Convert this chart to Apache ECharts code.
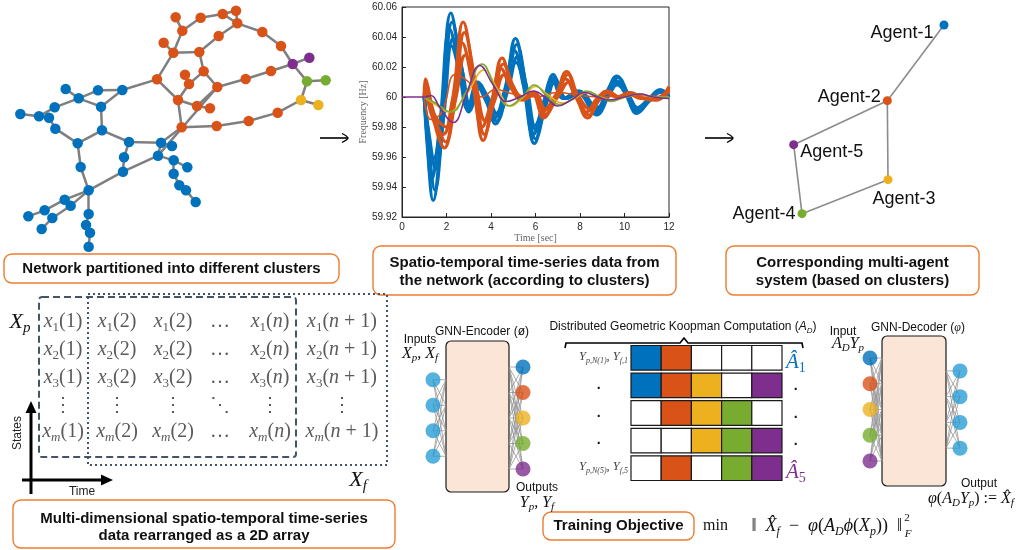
<!DOCTYPE html>
<html><head><meta charset="utf-8">
<script src="https://cdn.jsdelivr.net/npm/echarts/dist/echarts.min.js"></script>
<style>html,body{margin:0;padding:0;background:#fff}#c{width:1030px;height:550px}</style>
</head><body><div id="c"></div>
<script>
// ---------------- DATA ----------------
const COLORS = ['#0072bd', '#d95319', '#edb120', '#77ac30', '#7e2f8e'];
const NN_BLUE = '#2b9fd6';

// network (x, y in drawing units, cluster index)
const netNodes = [
  [527,52,1],[602,53,1],[668,42,1],[708,32,1],[712,70,1],[547,92,1],[656,108,1],[787,96,1],[843,138,1],
  [491,128,1],[520,158,1],[598,156,1],[611,214,1],[555,224,1],[567,252,1],[471,238,1],[652,261,1],
  [737,237,1],[813,213,1],[534,300,1],[591,318,1],[630,325,1],[545,382,1],[650,378,1],[746,363,1],[833,338,1],
  [878,192,4],[928,173,4],[921,244,3],[977,241,3],[903,300,2],[955,315,2],
  [197,267,0],[236,295,0],[294,271,0],[367,270,0],[164,322,0],[303,320,0],[61,342,0],[117,349,0],
  [147,353,0],[166,386,0],[306,391,0],[233,430,0],[387,426,0],[483,428,0],[516,438,0],[372,472,0],
  [474,467,0],[521,481,0],[562,502,0],[242,501,0],[369,515,0],[521,521,0],[538,556,0],[558,571,0],
  [587,606,0],[266,571,0],[194,599,0],[212,617,0],[134,631,0],[85,649,0],[157,654,0],[125,687,0],
  [266,642,0],[258,675,0],[270,698,0],[266,740,0]
];
const netEdges = [
  [0,5],[5,1],[1,2],[2,4],[3,4],[2,3],[4,6],[6,11],[4,7],[7,8],[8,26],
  [5,10],[9,10],[10,11],[10,15],[11,12],[12,16],[12,14],[13,14],[14,19],[15,19],[15,35],
  [19,20],[20,21],[20,16],[16,17],[17,18],[18,26],[19,22],[22,23],[23,24],[24,25],[25,30],
  [22,45],[16,48],
  [26,27],[26,28],[28,29],[28,30],[30,31],
  [32,33],[33,34],[34,35],[35,37],[33,37],[33,36],[36,39],[38,39],[39,40],[40,41],[41,43],
  [43,42],[42,37],[42,44],[44,45],[45,46],[44,47],[47,52],[52,48],[48,45],[48,49],[49,50],
  [49,53],[53,54],[54,55],[55,56],[43,51],[51,57],[57,52],[57,58],[58,60],[60,61],[57,59],
  [59,62],[62,63],[57,64],[64,65],[65,66],[66,67]
];

// multi-agent system
const agentNames = ['Agent-1', 'Agent-2', 'Agent-3', 'Agent-4', 'Agent-5'];
const agentNodes = [[762,75],[592,302],[594,539],[336,641],[311,434]];
const agentEdges = [[0,1],[1,2],[1,4],[2,3],[3,4]];

// frequency time series [time s, frequency Hz]
const blue1 = [[1,60],[1.15,59.965],[1.4,59.931],[1.75,59.975],[2.2,60.056],[2.6,60.025],[3.0,59.990],[3.4,60.010],[3.8,59.998],[4.2,59.982],[4.65,60.005],[5.1,60.039],[5.5,60.010],[5.95,59.969],[6.4,59.995],[6.8,60.015],[7.3,59.999],[7.9,60.004],[8.75,59.988],[9.2,60.002],[9.65,60.014],[10.1,60.002],[10.55,59.989],[11.1,59.998],[11.6,60.005],[12,60.001]];
const blue2 = [[1,60],[1.2,59.968],[1.48,59.938],[1.82,59.980],[2.26,60.050],[2.66,60.022],[3.06,59.991],[3.46,60.009],[3.86,59.998],[4.26,59.984],[4.71,60.005],[5.16,60.035],[5.56,60.009],[6.01,59.972],[6.46,59.995],[6.86,60.013],[7.36,59.999],[7.96,60.004],[8.81,59.989],[9.26,60.002],[9.71,60.013],[10.16,60.002],[10.61,59.990],[11.16,59.998],[11.66,60.004],[12,60.0]];
const blue3 = [[1,60],[1.12,59.975],[1.33,59.945],[1.7,59.982],[2.15,60.045],[2.55,60.020],[2.95,59.992],[3.35,60.008],[3.75,59.998],[4.15,59.986],[4.6,60.004],[5.05,60.031],[5.45,60.008],[5.9,59.975],[6.35,59.996],[6.75,60.012],[7.25,59.999],[7.85,60.003],[8.7,59.990],[9.15,60.002],[9.6,60.011],[10.05,60.002],[10.5,59.991],[11.05,59.998],[11.55,60.004],[12,60.001]];
const blue4 = [[1,60],[1.22,59.975],[1.52,59.952],[1.86,59.985],[2.3,60.039],[2.7,60.018],[3.1,59.993],[3.5,60.007],[3.9,59.999],[4.3,59.988],[4.75,60.004],[5.2,60.027],[5.6,60.007],[6.05,59.978],[6.5,59.996],[6.9,60.011],[7.4,59.999],[8.0,60.003],[8.85,59.991],[9.3,60.001],[9.75,60.010],[10.2,60.001],[10.65,59.992],[11.2,59.999],[11.7,60.004],[12,60.0]];
const blue5 = [[1,60],[1.16,59.979],[1.42,59.959],[1.78,59.986],[2.22,60.034],[2.62,60.015],[3.02,59.994],[3.42,60.006],[3.82,59.999],[4.22,59.989],[4.67,60.003],[5.12,60.023],[5.52,60.006],[5.97,59.981],[6.42,59.997],[6.82,60.009],[7.32,59.999],[7.92,60.002],[8.77,59.993],[9.22,60.001],[9.67,60.008],[10.12,60.001],[10.57,59.993],[11.12,59.999],[11.62,60.003],[12,60.0]];
const orange1 = [[1,60],[1.05,60.012],[1.3,59.995],[1.6,59.975],[1.9,59.966],[2.3,59.995],[2.75,60.050],[3.2,60.015],[3.65,59.971],[4.05,59.995],[4.5,60.026],[4.95,60.008],[5.4,59.998],[5.9,60.003],[6.35,59.986],[6.9,60.0],[7.4,60.017],[7.85,60.0],[8.35,59.986],[8.8,59.998],[9.2,60.004],[9.7,60.0],[10.2,60.003],[10.8,59.999],[11.4,59.998],[12,60.007]];
const orange2 = [[1,60],[1.08,60.009],[1.36,59.993],[1.66,59.978],[1.96,59.970],[2.36,59.996],[2.81,60.043],[3.26,60.013],[3.71,59.975],[4.11,59.996],[4.56,60.022],[5.01,60.007],[5.46,59.998],[5.96,60.003],[6.41,59.988],[6.96,60.0],[7.46,60.015],[7.91,60.0],[8.41,59.988],[8.86,59.998],[9.26,60.004],[9.76,60.0],[10.26,60.003],[10.86,59.999],[11.46,59.998],[12,60.006]];
const orange3 = [[1,60],[1.04,60.006],[1.25,59.992],[1.55,59.980],[1.85,59.975],[2.25,59.997],[2.7,60.036],[3.15,60.011],[3.6,59.980],[4.0,59.996],[4.45,60.019],[4.9,60.006],[5.35,59.999],[5.85,60.002],[6.3,59.990],[6.85,60.0],[7.35,60.012],[7.8,60.0],[8.3,59.990],[8.75,59.999],[9.15,60.003],[9.65,60.0],[10.15,60.002],[10.75,59.999],[11.35,59.999],[12,60.005]];
const orange4 = [[1,60],[1.1,60.004],[1.4,59.990],[1.7,59.983],[2.0,59.980],[2.4,59.998],[2.85,60.028],[3.3,60.009],[3.75,59.984],[4.15,59.997],[4.6,60.015],[5.05,60.005],[5.5,59.999],[6.0,60.002],[6.45,59.992],[7.0,60.0],[7.5,60.010],[7.95,60.0],[8.45,59.992],[8.9,59.999],[9.3,60.003],[9.8,60.0],[10.3,60.002],[10.9,59.999],[11.5,59.999],[12,60.004]];
const orange5 = [[1,60],[1.3,59.985],[1.8,59.990],[2.4,60.015],[3.0,60.010],[3.6,60.0],[4.2,60.005],[5.0,60.002],[6.0,60.0],[7.0,60.003],[8.0,60.001],[9.0,60.0],[10,60.001],[12,60.0]];
const yellowLine = [[1,60],[1.5,59.995],[2.1,59.990],[2.9,60.002],[3.7,60.018],[4.3,60.005],[4.9,59.994],[5.45,60.0],[6.0,60.007],[6.6,60.001],[7.2,59.996],[7.75,59.999],[8.3,60.003],[8.9,60.0],[9.5,59.998],[10.1,60.0],[10.7,60.002],[11.3,60.0],[12,60.0]];
const greenLine = [[1,60],[1.5,59.996],[2.2,59.990],[2.9,60.004],[3.6,60.022],[4.2,60.006],[4.8,59.994],[5.4,60.0],[5.95,60.008],[6.5,60.001],[7.1,59.995],[7.7,59.999],[8.3,60.004],[8.9,60.0],[9.4,59.997],[10.0,60.0],[10.7,60.002],[11.3,60.0],[12,60.0]];
const purpleLine = [[0,60],[1,60],[1.3,60.001],[1.7,59.993],[2.3,59.983],[2.9,60.002],[3.5,60.021],[4.1,60.008],[4.7,59.997],[5.3,60.0],[5.9,60.004],[6.5,59.999],[7.0,59.994],[7.6,59.998],[8.2,60.003],[8.8,60.0],[9.3,59.998],[10.0,60.0],[10.7,60.002],[11.3,60.0],[12,59.999]];

// distributed Koopman blocks: agent index (1..5) per cell, 0 = empty
const koopmanRows = [[1,2,0,0,0],[1,2,3,0,5],[0,2,3,4,0],[0,0,3,4,5],[0,2,0,4,5]];

// neural network layers
const encInputCount = 4;
const encOutputAgents = [1,2,3,4,5];
const decInputAgents = [1,2,3,4,5];
const decOutputCount = 4;

// 2D array labels
const matrixRowIdx = ['1','2','3','⋮','m'];
const matrixColArg = ['1','2','2','…','n','n+1'];

// ---------------- LAYOUT / STYLE ----------------
const SANS = 'Liberation Sans', SERIF = 'Liberation Serif';
const chart = echarts.init(document.getElementById('c'));

function mrich(size, color) {
  const L = Math.round(size * 1.25), ss = Math.round(size * 0.66), sl = Math.round(size * 0.7);
  return {
    i: {fontFamily: SERIF, fontStyle: 'italic', fontSize: size, lineHeight: L, fill: color},
    r: {fontFamily: SERIF, fontSize: size, lineHeight: L, fill: color},
    s: {fontFamily: SERIF, fontStyle: 'italic', fontSize: ss, lineHeight: sl, verticalAlign: 'bottom', fill: color},
    sr: {fontFamily: SERIF, fontSize: ss, lineHeight: sl, verticalAlign: 'bottom', fill: color},
    up: {fontFamily: SERIF, fontSize: ss, lineHeight: sl, verticalAlign: 'top', fill: color},
    a: {fontFamily: SANS, fontSize: size, lineHeight: L, fill: color},
    ai: {fontFamily: SANS, fontStyle: 'italic', fontSize: size, lineHeight: L, fill: color},
    as: {fontFamily: SANS, fontStyle: 'italic', fontSize: ss, lineHeight: sl, verticalAlign: 'bottom', fill: color}
  };
}

const g = [];
function box(x, y, w, h) {
  g.push({type: 'rect', shape: {x, y, width: w, height: h, r: 8}, style: {fill: '#fff', stroke: '#ed7d31', lineWidth: 1.4}});
}
function label(x, y, text, o) {
  o = o || {};
  g.push({type: 'text', x, y, rotation: o.rot || 0, style: Object.assign({
    text, align: o.align || 'center', verticalAlign: 'middle',
    fontFamily: o.family || SANS, fontSize: o.size || 12, fontWeight: o.weight || 'normal',
    fontStyle: o.style || 'normal', fill: o.color || '#111', lineHeight: o.lh
  }, o.rich ? {rich: o.rich} : {})});
}
function arrow(x1, x2, y) {
  g.push({type: 'polyline', shape: {points: [[x1, y], [x2, y]]}, style: {stroke: '#000', lineWidth: 1.6}});
  g.push({type: 'polyline', shape: {points: [[x2 - 6, y - 4.5], [x2, y], [x2 - 6, y + 4.5]], smooth: 0.3}, style: {stroke: '#000', lineWidth: 1.4, fill: null}});
}

// captions
box(4, 254, 335, 29);  label(171.5, 269, 'Network partitioned into different clusters', {size: 15, weight: 'bold'});
box(373, 246, 303, 49); label(524.5, 272, 'Spatio-temporal time-series data from\nthe network (according to clusters)', {size: 15, weight: 'bold', lh: 18});
box(726, 246, 253, 49); label(852.5, 272, 'Corresponding multi-agent\nsystem (based on clusters)', {size: 15, weight: 'bold', lh: 18});
box(13, 500, 382, 48); label(204, 527, 'Multi-dimensional spatio-temporal time-series\ndata rearranged as a 2D array', {size: 15, weight: 'bold', lh: 17});
box(543, 512, 151, 28); label(618.5, 526, 'Training Objective', {size: 15, weight: 'bold'});

arrow(320, 348, 138);
arrow(705, 733, 138);

// 2D array
g.push({type: 'rect', shape: {x: 39, y: 297, width: 257, height: 160, r: 3}, style: {fill: null, stroke: '#44546a', lineWidth: 2, lineDash: [7, 4]}});
g.push({type: 'rect', shape: {x: 88, y: 294, width: 299, height: 171}, style: {fill: null, stroke: '#44546a', lineWidth: 2, lineDash: [2, 3]}});
const colX = [63, 117, 173, 220, 270, 342], rowY = [322, 350, 378, 406, 432];
const mr = mrich(20, '#5a5a5a');
matrixRowIdx.forEach((ri, r) => {
  matrixColArg.forEach((ca, c) => {
    let t;
    if (ri === '⋮') t = ca === '…' ? '{r|⋱}' : '{r|⋮}';
    else if (ca === '…') t = '{r|…}';
    else {
      const sub = ri === 'm' ? '{s|m}' : '{sr|' + ri + '}';
      const arg = ca === 'n' ? '{i|n}' : ca === 'n+1' ? '{i|n}{r| + 1}' : '{r|' + ca + '}';
      t = '{i|x}' + sub + '{r|(}' + arg + '{r|)}';
    }
    label(colX[c], rowY[r], t, {rich: mr});
  });
});
label(20, 322, '{i|X}{s|p}', {rich: mrich(22, '#111')});
label(358, 480, '{i|X}{s|f}', {rich: mrich(22, '#111')});
g.push({type: 'polyline', shape: {points: [[31, 494], [31, 410]]}, style: {stroke: '#000', lineWidth: 3}});
g.push({type: 'polygon', shape: {points: [[31, 401], [25.5, 413], [36.5, 413]]}, style: {fill: '#000'}});
g.push({type: 'polyline', shape: {points: [[22, 480], [103, 480]]}, style: {stroke: '#000', lineWidth: 3}});
g.push({type: 'polygon', shape: {points: [[113, 480], [101, 474.5], [101, 485.5]]}, style: {fill: '#000'}});
label(18, 433, 'States', {size: 12, rot: Math.PI / 2, color: '#222'});
label(82, 492, 'Time', {size: 12, color: '#222'});

// GNN encoder
g.push({type: 'rect', shape: {x: 446, y: 341, width: 63, height: 151, r: 5}, style: {fill: '#fbe5d6', stroke: '#1a1a1a', lineWidth: 1.2}});
label(482, 332, 'GNN-Encoder (ø)', {size: 12});
label(420, 340, 'Inputs', {size: 12});
label(420, 354, '{i|X}{s|p}{r|, }{i|X}{s|f}', {rich: mrich(16, '#111')});
label(537, 488, 'Outputs', {size: 12});
label(537, 503, '{i|Y}{s|p}{r|, }{i|Y}{s|f}', {rich: mrich(16, '#111')});

// GNN decoder
g.push({type: 'rect', shape: {x: 882, y: 336, width: 64, height: 150, r: 5}, style: {fill: '#fbe5d6', stroke: '#1a1a1a', lineWidth: 1.2}});
label(918, 328, '{a|GNN-Decoder (}{i|φ}{a|)}', {rich: mrich(12, '#111')});
label(843, 332, 'Input', {size: 12});
label(848, 344, '{i|A}{s|D}{i|Y}{s|p}', {rich: mrich(16, '#111')});
label(979, 484, 'Output', {size: 12});
label(928, 499, '{i|φ}{r|(}{i|A}{s|D}{i|Y}{s|p}{r|) := }{i|X̂}{s|f}', {rich: mrich(16, '#111'), align: 'left'});

// Koopman block
label(683, 327, '{a|Distributed Geometric Koopman Computation (}{ai|A}{as|D}{a|)}', {rich: mrich(12, '#111')});
g.push({type: 'polyline', shape: {points: [[565, 348], [566, 343], [680, 343], [684, 338], [688, 343], [802, 343], [803, 348]]}, style: {stroke: '#000', lineWidth: 1.6, fill: null}});
label(628, 357, '{i|Y}{s|p,N(1)}{r|, }{i|Y}{s|f,1}', {rich: mrich(12.5, '#444'), align: 'right'});
label(628, 467, '{i|Y}{s|p,N(5)}{r|, }{i|Y}{s|f,5}', {rich: mrich(12.5, '#444'), align: 'right'});
[389, 417, 444].forEach(y => { label(599, y, '·', {size: 14, weight: 'bold'}); label(796, y + 1, '·', {size: 14, weight: 'bold'}); });
label(786, 362, '{i|Â}{sr|1}', {rich: mrich(21, COLORS[0]), align: 'left'});
label(786, 472, '{i|Â}{sr|5}', {rich: mrich(21, COLORS[4]), align: 'left'});

// training objective
label(703, 526, '{r|min}', {rich: mrich(16, '#111'), align: 'left'});
label(902, 526, '{r|‖\u2002}{i|X̂}{s|f}{r|\u2002−\u2002}{i|φ}{r|(}{i|A}{s|D}{i|ϕ}{r|(}{i|X}{s|p}{r|))\u2002‖}', {rich: mrich(18, '#111'), align: 'right'});
label(907, 518, '2', {size: 11, family: SERIF});
label(908, 534, 'F', {size: 11, family: SERIF, style: 'italic'});

// ---------------- SERIES ----------------
function lineS(data, color, w) {
  return {type: 'line', xAxisIndex: 0, yAxisIndex: 0, data, smooth: 0.45, showSymbol: false, silent: true,
    lineStyle: {color, width: w}, itemStyle: {color}, clip: true};
}
const layerYs = (n, N) => Array.from({length: n}, (_, k) => k + (N - n) / 2);

function nnSeries(gi, counts, colorsPerLayer, boxL, boxR) {
  const N = Math.max.apply(null, counts);
  const layers = counts.map(n => layerYs(n, N));
  const fanData = [], nodeData = [];
  layers.forEach((ys, L) => ys.forEach((y, k) => {
    fanData.push([L, y]);
    nodeData.push({value: [L, y], itemStyle: {color: colorsPerLayer[L][k]}});
  }));
  return [
    {type: 'custom', xAxisIndex: gi, yAxisIndex: gi, data: fanData, silent: true,
      renderItem: (params, api) => {
        const L = api.value(0), y = api.value(1), p = api.coord([L, y]);
        const ex = L === 0 ? boxL : boxR;
        return {type: 'group', children: layers[L].map(ty => ({type: 'line',
          shape: {x1: p[0], y1: p[1], x2: ex, y2: api.coord([L, ty])[1]},
          style: {stroke: '#8a8a8a', lineWidth: 0.7}}))};
      }},
    {type: 'scatter', xAxisIndex: gi, yAxisIndex: gi, data: nodeData, symbolSize: 15, silent: true, z: 5}
  ];
}

const hiddenX = (gi, max) => ({gridIndex: gi, type: 'value', min: 0, max, show: false});
const hiddenY = (gi, max) => ({gridIndex: gi, type: 'value', min: 0, max, inverse: true, show: false});

const agentLabelCfg = [
  {position: 'left', distance: 6, offset: [0, 8]},
  {position: 'left', distance: 2, offset: [0, -4]},
  {position: 'bottom', distance: 6, offset: [16, 0]},
  {position: 'left', distance: 2, offset: [0, 0]},
  {position: 'right', distance: 2, offset: [0, 7]}
];

const BW = 3.2;
const option = {
  animation: false,
  backgroundColor: '#fff',
  graphic: {elements: g},
  grid: [
    {left: 402, top: 7, width: 267, height: 210, show: true, borderColor: '#262626', borderWidth: 1, backgroundColor: '#fff'},
    {left: 0, top: 0, width: 340, height: 250},
    {left: 690, top: 0, width: 340, height: 240},
    {left: 433, top: 367, width: 90, height: 102},
    {left: 870, top: 358, width: 90, height: 103},
    {left: 631, top: 344, width: 151, height: 138}
  ],
  xAxis: [
    {gridIndex: 0, type: 'value', min: 0, max: 12, interval: 2,
      name: 'Time [sec]', nameLocation: 'middle', nameGap: 14,
      nameTextStyle: {fontFamily: SERIF, fontSize: 10, color: '#666'},
      axisLine: {show: true, lineStyle: {color: '#262626', width: 1}},
      axisTick: {show: true, inside: true, length: 4, lineStyle: {color: '#262626'}},
      axisLabel: {fontFamily: SANS, fontSize: 10, color: '#262626', margin: 5},
      splitLine: {show: false}},
    hiddenX(1, 1020), hiddenX(2, 1020), hiddenX(3, 1), hiddenX(4, 1), hiddenX(5, 5)
  ],
  yAxis: [
    {gridIndex: 0, type: 'value', min: 59.92, max: 60.06, interval: 0.02,
      name: 'Frequency [Hz]', nameLocation: 'middle', nameGap: 34, nameRotate: 90,
      nameTextStyle: {fontFamily: SERIF, fontSize: 10, color: '#666'},
      axisLine: {show: true, lineStyle: {color: '#262626', width: 1}},
      axisTick: {show: true, inside: true, length: 4, lineStyle: {color: '#262626'}},
      axisLabel: {fontFamily: SANS, fontSize: 10, color: '#262626', margin: 5,
        formatter: v => String(+(+v).toFixed(2))},
      splitLine: {show: false}},
    hiddenY(1, 750), hiddenY(2, 720), hiddenY(3, 4), hiddenY(4, 4), hiddenY(5, 5)
  ],
  series: [
    lineS(blue1, COLORS[0], BW), lineS(blue2, COLORS[0], BW), lineS(blue3, COLORS[0], BW),
    lineS(blue4, COLORS[0], BW), lineS(blue5, COLORS[0], BW),
    lineS(orange1, COLORS[1], BW), lineS(orange2, COLORS[1], BW), lineS(orange3, COLORS[1], BW),
    lineS(orange4, COLORS[1], BW), lineS(orange5, COLORS[1], 1.6),
    lineS(yellowLine, COLORS[2], 1.6), lineS(greenLine, COLORS[3], 1.6), lineS(purpleLine, COLORS[4], 1.6),
    {type: 'graph', coordinateSystem: 'cartesian2d', xAxisIndex: 1, yAxisIndex: 1, silent: true,
      data: netNodes.map(n => ({value: [n[0], n[1]], itemStyle: {color: COLORS[n[2]]}})),
      links: netEdges.map(e => ({source: e[0], target: e[1]})),
      symbolSize: 10.5, lineStyle: {color: '#7f7f7f', width: 2.5, opacity: 1}, label: {show: false}},
    {type: 'graph', coordinateSystem: 'cartesian2d', xAxisIndex: 2, yAxisIndex: 2, silent: true,
      data: agentNodes.map((n, k) => ({name: agentNames[k], value: [n[0], n[1]], itemStyle: {color: COLORS[k]},
        label: Object.assign({show: true, formatter: agentNames[k], fontFamily: SANS, fontSize: 18, color: '#111'}, agentLabelCfg[k])})),
      links: agentEdges.map(e => ({source: e[0], target: e[1]})),
      symbolSize: 9, lineStyle: {color: '#8c8c8c', width: 1.6, opacity: 1}},
    ...nnSeries(3, [encInputCount, encOutputAgents.length],
      [Array(encInputCount).fill(NN_BLUE), encOutputAgents.map(a => COLORS[a - 1])], 446, 509),
    ...nnSeries(4, [decInputAgents.length, decOutputCount],
      [decInputAgents.map(a => COLORS[a - 1]), Array(decOutputCount).fill(NN_BLUE)], 882, 946),
    {type: 'custom', xAxisIndex: 5, yAxisIndex: 5, silent: true,
      data: koopmanRows.flatMap((row, r) => row.map((a, c) => [c, r, a])),
      renderItem: (params, api) => {
        const c = api.value(0), r = api.value(1), a = api.value(2);
        const p0 = api.coord([c, r]), p1 = api.coord([c + 1, r + 1]);
        return {type: 'rect', shape: {x: p0[0], y: p0[1] + 1.5, width: p1[0] - p0[0], height: p1[1] - p0[1] - 3},
          style: {fill: a ? COLORS[a - 1] : '#fff', stroke: '#1a1a1a', lineWidth: 1.2}};
      }}
  ]
};
chart.setOption(option);
</script></body></html>
